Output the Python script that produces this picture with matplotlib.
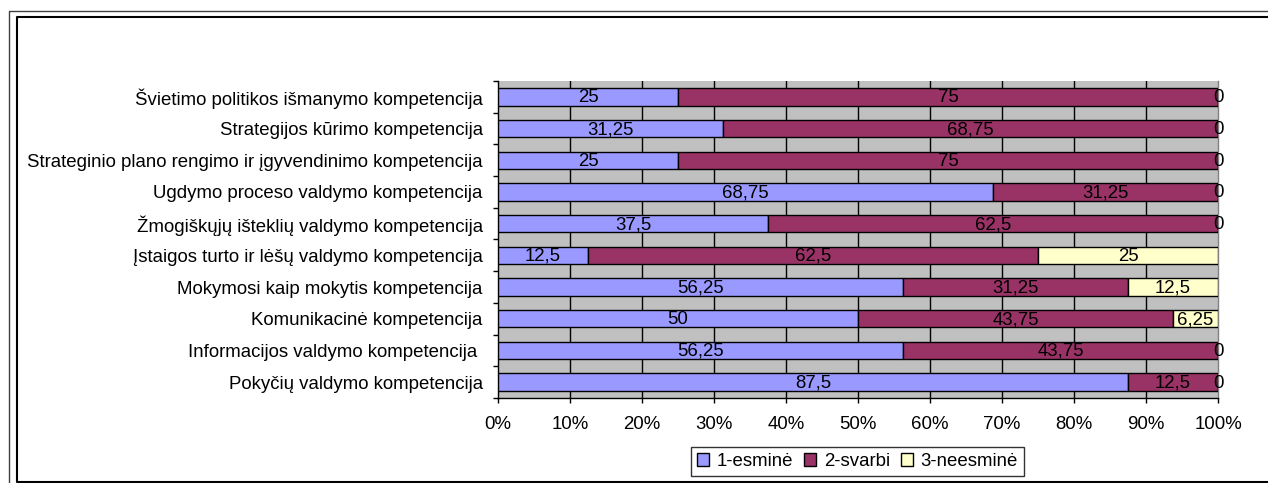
import matplotlib
matplotlib.use("Agg")
import matplotlib.pyplot as plt
from matplotlib.lines import Line2D
from matplotlib.patches import Patch
import numpy as np

plt.rcParams['font.family'] = ['Liberation Sans', 'DejaVu Sans']

categories = [
    "Švietimo politikos išmanymo kompetencija",
    "Strategijos kūrimo kompetencija",
    "Strateginio plano rengimo ir įgyvendinimo kompetencija",
    "Ugdymo proceso valdymo kompetencija",
    "Žmogiškųjų išteklių valdymo kompetencija",
    "Įstaigos turto ir lėšų valdymo kompetencija",
    "Mokymosi kaip mokytis kompetencija",
    "Komunikacinė kompetencija",
    "Informacijos valdymo kompetencija ",
    "Pokyčių valdymo kompetencija",
]
esmine = [25, 31.25, 25, 68.75, 37.5, 12.5, 56.25, 50, 56.25, 87.5]
svarbi = [75, 68.75, 75, 31.25, 62.5, 62.5, 31.25, 43.75, 43.75, 12.5]
neesmine = [0, 0, 0, 0, 0, 25, 12.5, 6.25, 0, 0]

series_names = ["1-esminė", "2-svarbi", "3-neesminė"]
colors = ["#9999FF", "#993366", "#FFFFCC"]
xticks = [0, 10, 20, 30, 40, 50, 60, 70, 80, 90, 100]

FS = 13.4
W, H = 1268, 483
fig = plt.figure(figsize=(W / 100, H / 100), dpi=100)
ax = fig.add_axes([498 / W, 1 - 398 / H, 720 / W, 317 / H])
ax.set_facecolor("#C0C0C0")

y = np.arange(len(categories))
left = np.zeros(len(categories))
for vals, name, col in zip([esmine, svarbi, neesmine], series_names, colors):
    vals = np.array(vals, dtype=float)
    ax.barh(y, vals, left=left, height=0.55, color=col, edgecolor="black",
            linewidth=1, zorder=3, label=name)
    for yi, l, v in zip(y, left, vals):
        txt = f"{v:g}".replace(".", ",")
        ax.text(l + v / 2, yi + 0.03, txt, ha="center", va="center",
                fontsize=FS, color="black", zorder=4)
    left += vals

ax.set_xlim(0, 100)
ax.set_ylim(len(categories) - 0.5, -0.5)
ax.set_xticks(xticks)
ax.set_xticklabels([f"{t}%" for t in xticks], fontsize=FS)
ax.set_yticks(y)
ax.set_yticklabels(categories, fontsize=FS)
ax.set_yticks(np.arange(-0.5, len(categories), 1), minor=True)
ax.tick_params(axis="y", which="major", length=0, pad=11)
ax.tick_params(axis="y", which="minor", length=3.6, width=1, direction="out")
ax.tick_params(axis="x", length=3.6, width=1, direction="out", pad=9.7)

# vertical gridlines behind the bars
for x in xticks[1:-1]:
    ax.axvline(x, color="black", linewidth=1, zorder=1)

ax.spines["top"].set_visible(False)
ax.spines["right"].set_color("#808080")
for s in ["left", "bottom", "right"]:
    ax.spines[s].set_linewidth(1)

handles = [Patch(facecolor=c, edgecolor="black", linewidth=1) for c in colors]
leg = fig.legend(handles, series_names, loc="center",
                 bbox_to_anchor=(857.5 / W, 1 - 461.5 / H), ncol=3,
                 fontsize=FS, frameon=True, fancybox=False,
                 handlelength=0.65, handleheight=0.65, handletextpad=0.4,
                 columnspacing=0.6, borderpad=0.3, borderaxespad=0)
leg.get_frame().set_edgecolor("black")
leg.get_frame().set_linewidth(1)

# double border around the chart
def fl(xs, ys, **kw):
    fig.add_artist(Line2D([v / W for v in xs], [1 - v / H for v in ys],
                          transform=fig.transFigure, **kw))

fl([8.5, 8.5, W], [H, 10.5, 10.5], color="#404040", linewidth=1)
fl([W, 17, 17, W], [17, 17, 481.5, 481.5], color="black", linewidth=1.5)

fig.savefig("out.png", dpi=100)
